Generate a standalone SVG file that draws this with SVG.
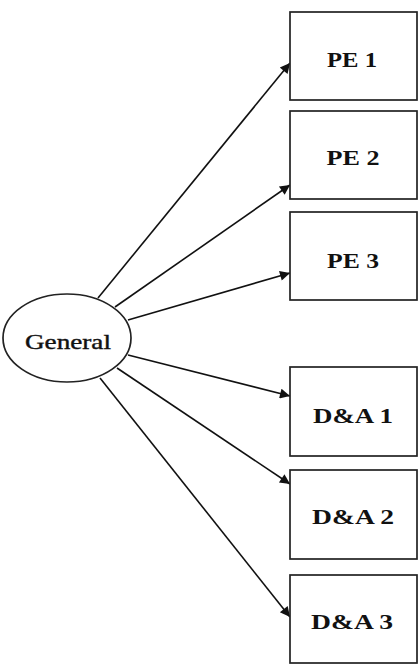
<svg xmlns="http://www.w3.org/2000/svg" width="419" height="665" viewBox="0 0 419 665">
  <defs>
    <marker id="arrow" viewBox="0 0 10 10" refX="10" refY="5" markerWidth="13" markerHeight="10" markerUnits="userSpaceOnUse" orient="auto">
      <path d="M0,0 L10,5 L0,10 z" fill="#111"/>
    </marker>
    <style>
      .box { fill: #fff; stroke: #222; stroke-width: 1.7; }
      .ell { fill: #fff; stroke: #222; stroke-width: 1.7; }
      .lbl { font-family: "Liberation Serif", "Times New Roman", serif; font-size: 20px; font-weight: bold; fill: #111; text-anchor: middle; dominant-baseline: central; }
      .lbl2 { font-family: "Liberation Serif", "Times New Roman", serif; font-size: 21px; fill: #111; stroke: #111; stroke-width: 0.4; text-anchor: middle; dominant-baseline: central; }
      .edge { stroke: #111; stroke-width: 1.6; fill: none; marker-end: url(#arrow); }
    </style>
  </defs>
  <rect width="419" height="665" fill="#fff"/>

  <g id="connectors">
    <line class="edge" x1="98" y1="298" x2="290" y2="63"/>
    <line class="edge" x1="115" y1="307" x2="290" y2="185"/>
    <line class="edge" x1="128" y1="320" x2="290" y2="273"/>
    <line class="edge" x1="128" y1="355" x2="290" y2="396"/>
    <line class="edge" x1="117" y1="368" x2="290" y2="484"/>
    <line class="edge" x1="100" y1="378" x2="290" y2="617"/>
  </g>

  <g id="general">
    <ellipse class="ell" cx="67" cy="338" rx="64" ry="44"/>
    <text class="lbl2" x="68" y="342" textLength="86" lengthAdjust="spacingAndGlyphs">General</text>
  </g>
  <g id="pe1">
    <rect class="box" x="290" y="12" width="127" height="88"/>
    <text class="lbl" x="352" y="60" textLength="50" lengthAdjust="spacingAndGlyphs">PE 1</text>
  </g>
  <g id="pe2">
    <rect class="box" x="290" y="111" width="127" height="88"/>
    <text class="lbl" x="353" y="158" textLength="53" lengthAdjust="spacingAndGlyphs">PE 2</text>
  </g>
  <g id="pe3">
    <rect class="box" x="290" y="212" width="127" height="88"/>
    <text class="lbl" x="353" y="261" textLength="52" lengthAdjust="spacingAndGlyphs">PE 3</text>
  </g>
  <g id="da1">
    <rect class="box" x="290" y="367" width="127" height="89"/>
    <text class="lbl" x="353" y="416" textLength="80" lengthAdjust="spacingAndGlyphs">D&amp;A 1</text>
  </g>
  <g id="da2">
    <rect class="box" x="290" y="470" width="127" height="89"/>
    <text class="lbl" x="353" y="517" textLength="82" lengthAdjust="spacingAndGlyphs">D&amp;A 2</text>
  </g>
  <g id="da3">
    <rect class="box" x="290" y="575" width="127" height="88"/>
    <text class="lbl" x="352" y="622" textLength="82" lengthAdjust="spacingAndGlyphs">D&amp;A 3</text>
  </g>
</svg>
